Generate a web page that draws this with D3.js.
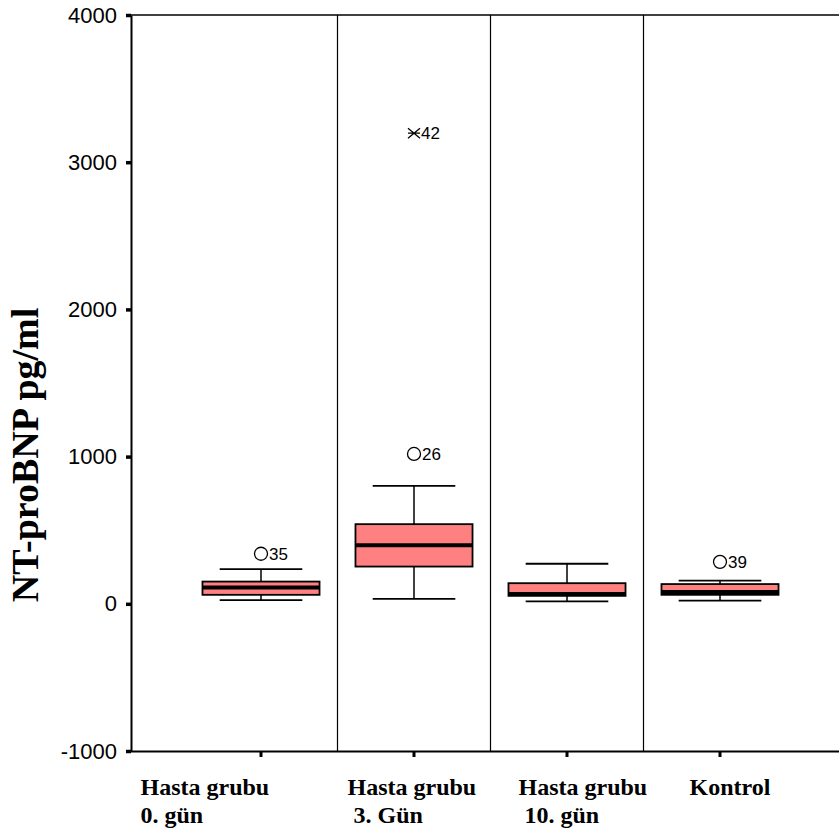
<!DOCTYPE html>
<html>
<head>
<meta charset="utf-8">
<script src="https://cdn.jsdelivr.net/npm/d3@7"></script>
<style>
  body { margin: 0; background: #fff; }
  text { white-space: pre; }
</style>
</head>
<body>
<svg id="chart" width="839" height="836"></svg>
<script>
// Groups and their two-line axis captions
const categories = ["Hasta grubu 0. gün", "Hasta grubu 3. Gün", "Hasta grubu 10. gün", "Kontrol"];
const categoryLines = [["Hasta grubu", "0. gün"], ["Hasta grubu", " 3. Gün"], ["Hasta grubu", " 10. gün"], ["Kontrol"]];

// Box-plot summaries (pg/ml)
const whiskerLow  = [25, 34, 16, 22];
const quartile1   = [61, 253, 54, 61];
const medians     = [111, 398, 66, 80];
const quartile3   = [151, 541, 140, 134];
const whiskerHigh = [236, 801, 272, 158];

// Outliers (circles) and extremes (stars) with case numbers
const outlierGroup = [0, 1, 3];
const outlierValue = [340, 1018, 285];
const outlierCase  = ["35", "26", "39"];
const extremeGroup = [1];
const extremeValue = [3197];
const extremeCase  = ["42"];

const yTicks = [-1000, 0, 1000, 2000, 3000, 4000];
const yTitle = "NT-proBNP pg/ml";

// ---- layout ----
const W = 839, H = 836;
const axisX = 131, topY = 15, bottomY = 751;
const labelShift = [-44, 10, 28, 46];   // caption offset from each band's left edge

const svg = d3.select("#chart");

const y = d3.scaleLinear().domain([-1000, 4000]).range([bottomY, topY]);
const x = d3.scaleBand().domain(categories).range([184.5, 796.5]).paddingInner(0).paddingOuter(0);
const bw = x.bandwidth();
const boxW = bw * 0.765;
const capW = bw * 0.54;

const groups = categories.map((c, i) => ({
  c, i,
  lo: whiskerLow[i], q1: quartile1[i], med: medians[i], q3: quartile3[i], hi: whiskerHigh[i]
}));

// frame: top border and group separators
svg.append("line")
  .attr("x1", axisX).attr("x2", W).attr("y1", topY).attr("y2", topY)
  .attr("stroke", "#000").attr("stroke-width", 1.5);
svg.selectAll("line.sep").data(categories.slice(1)).join("line")
  .attr("class", "sep")
  .attr("x1", d => x(d)).attr("x2", d => x(d))
  .attr("y1", topY).attr("y2", bottomY)
  .attr("stroke", "#000").attr("stroke-width", 1.2);

// bottom axis line and ticks
svg.append("line")
  .attr("x1", axisX).attr("x2", W).attr("y1", bottomY + 0.5).attr("y2", bottomY + 0.5)
  .attr("stroke", "#000").attr("stroke-width", 2);
const xAxis = svg.append("g")
  .attr("transform", `translate(0,${bottomY + 1})`)
  .call(d3.axisBottom(x).tickSize(5).tickSizeOuter(0).tickFormat(""));
xAxis.select(".domain").remove();
xAxis.selectAll(".tick line").attr("stroke", "#000").attr("stroke-width", 3);

// y axis (plain hyphen for negatives)
const yAxis = svg.append("g")
  .attr("transform", `translate(${axisX},0)`)
  .call(d3.axisLeft(y).tickValues(yTicks).tickSize(5).tickSizeOuter(0).tickPadding(9)
    .tickFormat(d => String(d)));
yAxis.select(".domain").attr("stroke", "#000").attr("stroke-width", 2);
yAxis.selectAll(".tick line").attr("stroke", "#000").attr("stroke-width", 3.5);
yAxis.selectAll(".tick text")
  .attr("fill", "#000")
  .style("font-family", "'Liberation Sans', Arial, sans-serif")
  .style("font-size", "22px");

// boxes
const g = svg.selectAll("g.box").data(groups).join("g").attr("class", "box")
  .attr("transform", d => `translate(${x(d.c) + bw / 2},0)`);

g.append("line")
  .attr("x1", 0).attr("x2", 0)
  .attr("y1", d => y(d.hi)).attr("y2", d => y(d.q3))
  .attr("stroke", "#000").attr("stroke-width", 1.5);
g.append("line")
  .attr("x1", 0).attr("x2", 0)
  .attr("y1", d => y(d.q1)).attr("y2", d => y(d.lo))
  .attr("stroke", "#000").attr("stroke-width", 1.5);
g.append("line")
  .attr("x1", -capW / 2).attr("x2", capW / 2)
  .attr("y1", d => y(d.hi)).attr("y2", d => y(d.hi))
  .attr("stroke", "#000").attr("stroke-width", 1.8);
g.append("line")
  .attr("x1", -capW / 2).attr("x2", capW / 2)
  .attr("y1", d => y(d.lo)).attr("y2", d => y(d.lo))
  .attr("stroke", "#000").attr("stroke-width", 1.8);
g.append("rect")
  .attr("x", -boxW / 2).attr("width", boxW)
  .attr("y", d => y(d.q3)).attr("height", d => y(d.q1) - y(d.q3))
  .attr("fill", "#ff8080").attr("stroke", "#000").attr("stroke-width", 1.8);
g.append("line")
  .attr("x1", -boxW / 2).attr("x2", boxW / 2)
  .attr("y1", d => y(d.med)).attr("y2", d => y(d.med))
  .attr("stroke", "#000").attr("stroke-width", 4);

// outliers
const labelFont = "'Liberation Sans', Arial, sans-serif";
outlierValue.forEach((v, k) => {
  const cx = x(categories[outlierGroup[k]]) + bw / 2;
  svg.append("circle")
    .attr("cx", cx).attr("cy", y(v)).attr("r", 6.5)
    .attr("fill", "#fff").attr("stroke", "#000").attr("stroke-width", 1.3);
  svg.append("text")
    .attr("x", cx + 8).attr("y", y(v)).attr("dy", "0.36em")
    .style("font-family", labelFont).style("font-size", "17px")
    .text(outlierCase[k]);
});

// extremes
const star = "M-6,-5L6,5M-6,5L6,-5M-6,0L6,0";
extremeValue.forEach((v, k) => {
  const cx = x(categories[extremeGroup[k]]) + bw / 2;
  svg.append("path")
    .attr("transform", `translate(${cx},${y(v)})`)
    .attr("d", star).attr("stroke", "#000").attr("stroke-width", 1.3).attr("fill", "none");
  svg.append("text")
    .attr("x", cx + 7).attr("y", y(v)).attr("dy", "0.36em")
    .style("font-family", labelFont).style("font-size", "17px")
    .text(extremeCase[k]);
});

// category captions
const captionFont = "'Liberation Serif', 'Times New Roman', serif";
categories.forEach((c, i) => {
  const t = svg.append("text")
    .attr("x", x(c) + labelShift[i]).attr("y", 795)
    .style("font-family", captionFont).style("font-size", "24px").style("font-weight", "bold");
  categoryLines[i].forEach((line, j) => {
    t.append("tspan").attr("x", x(c) + labelShift[i]).attr("dy", j === 0 ? 0 : 28).text(line);
  });
});

// y-axis title
svg.append("text")
  .attr("transform", `translate(38,455) rotate(-90)`)
  .attr("text-anchor", "middle")
  .style("font-family", captionFont).style("font-size", "38px").style("font-weight", "bold")
  .text(yTitle);
</script>
</body>
</html>
